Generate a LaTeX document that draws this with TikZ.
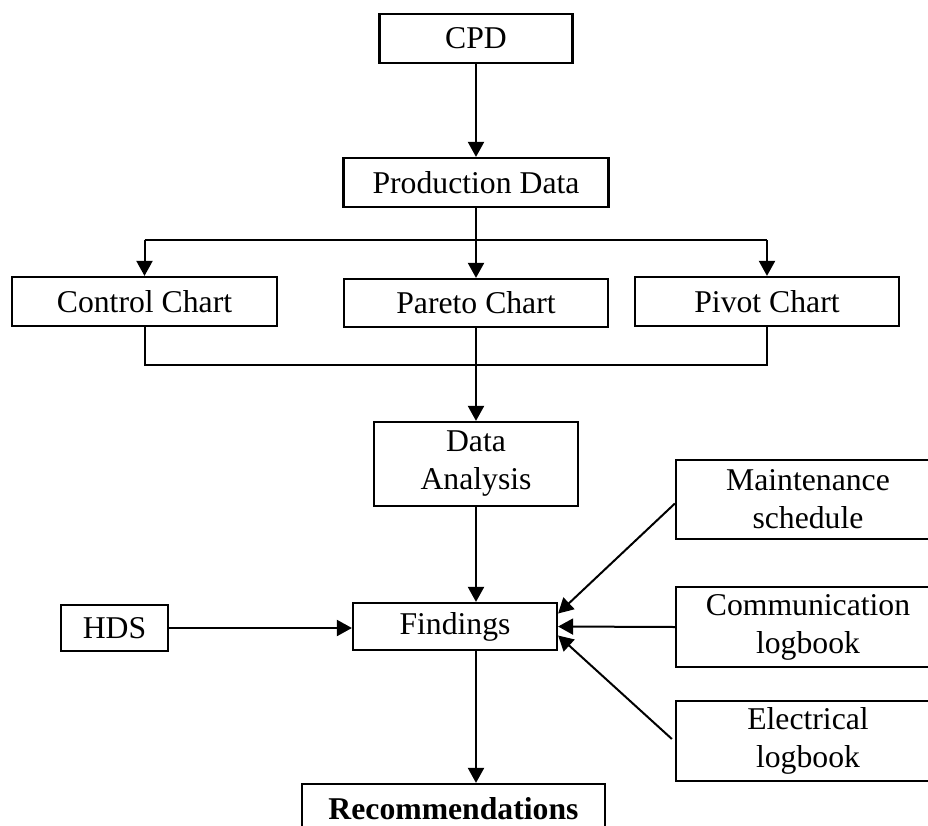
\documentclass[tikz,border=0pt]{standalone}
\usepackage{fontspec}
\setmainfont{Liberation Serif}
\usetikzlibrary{arrows.meta,calc}
\begin{document}
\begin{tikzpicture}[x=0.5pt,y=-0.5pt,
  box/.style={draw,line width=1.1pt,inner sep=0pt,align=center,
    font=\fontsize{15.85}{19}\selectfont},
  conn/.style={line width=1pt},
  arr/.style={conn,-{Triangle[length=7.5pt,width=8pt]}}]
\useasboundingbox (0,0) rectangle (928,826);
\clip (0,0) rectangle (928,826);
\node[box,minimum width=96.5pt,minimum height=24.5pt] (cpd) at (476,38.5) {CPD};
\node[box,minimum width=132.5pt,minimum height=24.5pt] (pd) at (476,182.5) {Production Data};
\node[box,minimum width=132.5pt,minimum height=24.5pt] (cc) at (144.5,301.5) {Control Chart};
\node[box,minimum width=132pt,minimum height=24pt] (pa) at (476,303) {Pareto Chart};
\node[box,minimum width=132pt,minimum height=24.5pt] (pv) at (767,301.5) {Pivot Chart};
\node[box,minimum width=102pt,minimum height=42pt] (da) at (476,464) {Data\\Analysis};
\node[box,minimum width=132pt,minimum height=39.5pt] (ms) at (808,499.5) {Maintenance\\schedule};
\node[box,minimum width=132pt,minimum height=40pt] (cl) at (808,627) {Communication\\logbook};
\node[box,minimum width=132pt,minimum height=40pt] (el) at (808,741) {Electrical\\logbook};
\node[box,minimum width=53.5pt,minimum height=23pt] (hds) at (114.5,628) {HDS};
\node[box,minimum width=102pt,minimum height=23.5pt] (fi) at (455,626.5) {Findings};
\node[box,minimum width=151.5pt,minimum height=25pt,font=\fontsize{15.85}{19}\selectfont\bfseries] (rec) at (453.5,809) {Recommendations};
% coordinates for branch and join lines
\coordinate (branch) at (476,240);
\coordinate (join) at (476,365);
\draw[arr] (cpd.south) -- (pd.north);
\draw[arr] (pd.south) -- (pa.north);
\draw[conn] (cc.north |- branch) -- (pv.north |- branch);
\draw[arr] (cc.north |- branch) -- (cc.north);
\draw[arr] (pv.north |- branch) -- (pv.north);
\draw[conn] (cc.south) -- (cc.south |- join) -- (pv.south |- join) -- (pv.south);
\draw[arr] (pa.south) -- (da.north);
\draw[arr] (da.south) -- (da.south |- fi.north);
\draw[arr] (da.south |- fi.south) -- (da.south |- rec.north);
\draw[arr] (hds.east) -- (hds.east -| fi.west);
\draw[arr] ($(ms.west)+(0,4)$) -- ($(fi.east)+(0,-13)$);
\draw[arr] (cl.west) -- (fi.east);
\draw[arr] ($(el.west)+(-3,-2)$) -- ($(fi.east)+(0,9)$);
\end{tikzpicture}
\end{document}
